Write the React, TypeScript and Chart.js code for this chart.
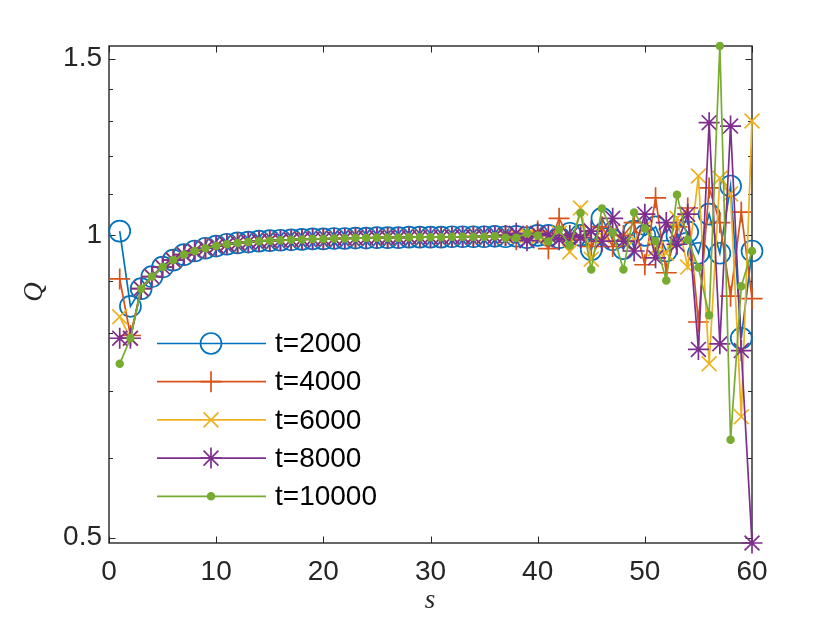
import React, { useEffect, useRef } from 'react';
import { Chart, registerables } from 'chart.js';
import { drawPoint } from 'chart.js/helpers';

Chart.register(...registerables);

// s = 1..60
const sValues: number[] = Array.from({ length: 60 }, (_, i) => i + 1);

const q2000 = [
  1.01, 0.85, 0.885, 0.91, 0.93, 0.945, 0.957, 0.965, 0.971, 0.976,
  0.98, 0.983, 0.985, 0.987, 0.988, 0.989, 0.99, 0.991, 0.992, 0.992,
  0.993, 0.993, 0.994, 0.994, 0.995, 0.995, 0.995, 0.996, 0.996, 0.996,
  0.996, 0.997, 0.997, 0.997, 0.997, 0.998, 0.997, 0.998, 0.995, 1.0,
  1.0, 0.995, 1.005, 1.0, 0.968, 1.04, 0.99, 0.97, 1.01, 1.0,
  1.02, 0.965, 1.0, 1.008, 0.96, 1.05, 0.96, 1.12, 0.79, 0.965,
];
const q4000 = [
  0.905, 0.795, 0.885, 0.91, 0.93, 0.945, 0.957, 0.965, 0.971, 0.976,
  0.98, 0.983, 0.985, 0.987, 0.988, 0.989, 0.99, 0.991, 0.992, 0.992,
  0.993, 0.993, 0.994, 0.994, 0.995, 0.995, 0.995, 0.996, 0.996, 0.996,
  0.996, 0.997, 0.997, 0.998, 0.997, 0.999, 1.0, 0.99, 1.0, 1.01,
  0.97, 1.04, 0.99, 1.0, 0.975, 1.02, 0.975, 1.0, 1.03, 0.935,
  1.09, 0.918, 1.02, 1.065, 0.82, 1.115, 1.03, 0.87, 1.055, 0.865,
];
const q6000 = [
  0.83, 0.79, 0.885, 0.91, 0.93, 0.945, 0.957, 0.965, 0.971, 0.976,
  0.98, 0.983, 0.985, 0.987, 0.988, 0.989, 0.99, 0.991, 0.992, 0.992,
  0.993, 0.993, 0.994, 0.994, 0.995, 0.995, 0.995, 0.996, 0.996, 0.996,
  0.996, 0.997, 0.997, 0.997, 0.998, 0.998, 0.998, 1.0, 1.0, 0.995,
  1.0, 1.005, 0.963, 1.065, 0.947, 1.0, 1.01, 0.985, 0.99, 1.02,
  0.97, 0.96, 1.04, 0.93, 1.146, 0.745, 1.14, 1.1, 0.66, 1.3,
];
const q8000 = [
  0.79, 0.79, 0.885, 0.91, 0.93, 0.945, 0.957, 0.965, 0.971, 0.976,
  0.98, 0.983, 0.985, 0.987, 0.988, 0.989, 0.99, 0.991, 0.992, 0.992,
  0.993, 0.993, 0.994, 0.994, 0.995, 0.995, 0.995, 0.996, 0.996, 0.996,
  0.996, 0.997, 0.997, 0.997, 0.998, 0.998, 1.0, 1.005, 0.988, 1.005,
  1.0, 0.99, 1.0, 0.995, 1.01, 0.987, 1.04, 0.987, 0.965, 1.05,
  0.95, 1.03, 0.98, 1.05, 0.77, 1.295, 0.78, 1.285, 0.768, 0.494,
];
const q10000 = [
  0.745, 0.79, 0.885, 0.91, 0.93, 0.945, 0.957, 0.965, 0.971, 0.976,
  0.98, 0.983, 0.985, 0.987, 0.988, 0.989, 0.99, 0.991, 0.992, 0.992,
  0.993, 0.993, 0.994, 0.994, 0.995, 0.995, 0.995, 0.996, 0.996, 0.996,
  0.996, 0.997, 0.997, 0.997, 0.997, 0.998, 0.995, 0.995, 1.005, 1.0,
  0.986, 1.014, 0.977, 1.053, 0.925, 1.064, 1.006, 0.925, 1.054, 1.016,
  0.987, 0.902, 1.098, 0.99, 0.929, 0.833, 1.544, 0.626, 0.89, 0.965,
];

const seriesLabels = ['t=2000', 't=4000', 't=6000', 't=8000', 't=10000'];
const seriesValues = [q2000, q4000, q6000, q8000, q10000];
const seriesColors = ['#0072BD', '#D95319', '#EDB120', '#7E2F8E', '#77AC30'];
const seriesMarkers = ['circle', 'cross', 'crossRot', 'star', 'circle'];
const markerSizes = [10.5, 10.5, 10.5, 10.5, 3.4];
const markerFilled = [false, false, false, false, true];

const xTickValues = [0, 10, 20, 30, 40, 50, 60];
const yTickValues = [0.5, 0.6, 0.7, 0.8, 0.9, 1, 1.1, 1.2, 1.3, 1.4, 1.5];
const yMajorTicks = [0.5, 1, 1.5];
const xTitle = 's';
const yTitle = 'Q';

const SANS = '"Liberation Sans", Arial, Helvetica, sans-serif';
const SERIF = '"Liberation Serif", "DejaVu Serif", serif';
const AXIS_COLOR = '#262626';
const FONT_SIZE = 28;
const LINE_W = 1.7;

const allValues = seriesValues.flat();
const yMin = Math.min(...allValues);
const yMax = Math.max(...allValues);

const matlabPlugin = {
  id: 'matlabAxes',
  beforeDatasetsDraw(chart: any) {
    const { ctx, chartArea: a, scales } = chart;
    const xs = scales.x;
    const ys = scales.y;
    ctx.save();
    ctx.strokeStyle = AXIS_COLOR;
    ctx.lineWidth = 1;
    const seg = (x1: number, y1: number, x2: number, y2: number) => {
      ctx.beginPath();
      ctx.moveTo(x1, y1);
      ctx.lineTo(x2, y2);
      ctx.stroke();
    };
    for (const v of xTickValues) {
      const px = Math.round(xs.getPixelForValue(v)) + 0.5;
      seg(px, a.bottom, px, a.bottom - 6.5);
      seg(px, a.top, px, a.top + 6.5);
    }
    for (const v of yTickValues) {
      const py = Math.round(ys.getPixelForValue(v)) + 0.5;
      const len = yMajorTicks.includes(v) ? 6.5 : 4;
      seg(a.left, py, a.left + len, py);
      seg(a.right, py, a.right - len, py);
    }
    ctx.lineWidth = 1.4;
    ctx.strokeRect(a.left, a.top, a.right - a.left, a.bottom - a.top);
    ctx.restore();
  },
  afterDatasetsDraw(chart: any) {
    const { ctx } = chart;
    ctx.save();
    // legend
    const lx0 = 157;
    const lx1 = 266;
    const mx = 211;
    const tx = 275;
    const y0 = 343.5;
    const dy = 38.2;
    seriesLabels.forEach((lab, i) => {
      const y = y0 + i * dy;
      ctx.strokeStyle = seriesColors[i];
      ctx.lineWidth = LINE_W;
      ctx.beginPath();
      ctx.moveTo(lx0, y);
      ctx.lineTo(lx1, y);
      ctx.stroke();
      ctx.fillStyle = markerFilled[i] ? seriesColors[i] : 'rgba(0,0,0,0)';
      drawPoint(ctx, {
        pointStyle: seriesMarkers[i],
        radius: markerSizes[i],
        rotation: 0,
        borderWidth: LINE_W,
      } as any, mx, y);
      ctx.fillStyle = '#000000';
      ctx.font = `${FONT_SIZE}px ${SANS}`;
      ctx.textAlign = 'left';
      ctx.textBaseline = 'middle';
      ctx.fillText(lab, tx, y + 1);
    });
    // axis titles
    ctx.fillStyle = AXIS_COLOR;
    ctx.font = `italic 27px ${SERIF}`;
    ctx.textAlign = 'center';
    ctx.textBaseline = 'middle';
    ctx.fillText(xTitle, 430, 601);
    ctx.save();
    ctx.translate(35, 292);
    ctx.rotate(-Math.PI / 2);
    ctx.fillText(yTitle, 0, 0);
    ctx.restore();
    ctx.restore();
  },
};

export default function App() {
  const ref = useRef<HTMLCanvasElement | null>(null);
  useEffect(() => {
    if (!ref.current) return;
    const datasets = seriesValues.map((vals, i) => ({
      label: seriesLabels[i],
      data: vals.map((v, j) => ({ x: sValues[j], y: v })),
      borderColor: seriesColors[i],
      backgroundColor: seriesColors[i],
      borderWidth: LINE_W,
      pointStyle: seriesMarkers[i],
      pointRadius: markerSizes[i],
      pointHoverRadius: markerSizes[i],
      pointBorderWidth: LINE_W,
      pointBorderColor: seriesColors[i],
      pointBackgroundColor: markerFilled[i] ? seriesColors[i] : 'rgba(0,0,0,0)',
      tension: 0,
      fill: false,
      clip: false as any,
      order: seriesValues.length - i,
    }));
    const chart = new Chart(ref.current, {
      type: 'line',
      data: { datasets },
      plugins: [matlabPlugin],
      options: {
        responsive: false,
        animation: false,
        parsing: true,
        layout: { padding: { left: 0, top: 46, right: 78, bottom: 0 } },
        plugins: {
          legend: { display: false },
          tooltip: { enabled: false },
          title: { display: false },
        },
        scales: {
          x: {
            type: 'linear',
            min: 0,
            max: 60,
            grid: { display: false, drawTicks: false },
            border: { display: false },
            ticks: {
              stepSize: 10,
              color: AXIS_COLOR,
              padding: 12,
              maxRotation: 0,
              autoSkip: false,
              font: { family: SANS, size: FONT_SIZE },
            },
            afterBuildTicks: (scale: any) => {
              scale.ticks = xTickValues.map((v) => ({ value: v }));
            },
            afterFit: (scale: any) => {
              scale.height = 79;
            },
          },
          y: {
            type: 'logarithmic',
            min: yMin,
            max: yMax,
            grid: { display: false, drawTicks: false },
            border: { display: false },
            ticks: {
              color: AXIS_COLOR,
              padding: 7,
              autoSkip: false,
              font: { family: SANS, size: FONT_SIZE },
              callback: (v: any) => (yMajorTicks.includes(Number(v)) ? String(v) : ''),
            },
            afterBuildTicks: (scale: any) => {
              scale.ticks = yTickValues.map((v) => ({ value: v }));
            },
            afterFit: (scale: any) => {
              scale.width = 109;
            },
          },
        },
      },
    });
    return () => chart.destroy();
  }, []);
  return (
    <div style={{ position: 'fixed', left: 0, top: 0, width: 830, height: 622, background: '#ffffff' }}>
      <canvas ref={ref} width={830} height={622} style={{ width: 830, height: 622, display: 'block' }} />
    </div>
  );
}
